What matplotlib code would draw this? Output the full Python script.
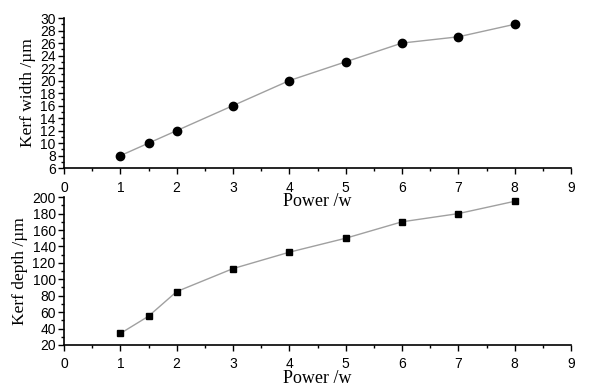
import matplotlib
matplotlib.use("Agg")
import matplotlib.pyplot as plt
from matplotlib.ticker import MultipleLocator

power = [1, 1.5, 2, 3, 4, 5, 6, 7, 8]
kerf_width = [8, 10, 12, 16, 20, 23, 26, 27, 29]
kerf_depth = [34, 55, 85, 113, 133, 150, 170, 180, 195]

fig = plt.figure(figsize=(6.01, 3.92), dpi=100)
ax1 = fig.add_axes([0.1065, 0.571, 0.8436, 0.383])
ax2 = fig.add_axes([0.1065, 0.12, 0.8436, 0.377])
ax1.set_zorder(2)
ax1.patch.set_alpha(0)
ax2.patch.set_alpha(0)

line_kw = dict(color="#a0a0a0", linewidth=1.0, markerfacecolor="black",
               markeredgecolor="black")
ax1.plot(power, kerf_width, marker="o", markersize=6, **line_kw)
ax2.plot(power, kerf_depth, marker="s", markersize=5, **line_kw)

ax1.set_ylim(6, 30)
ax1.yaxis.set_major_locator(MultipleLocator(2))
ax1.yaxis.set_minor_locator(MultipleLocator(1))
ax1.set_ylabel("Kerf width /\u00b5m", family="Liberation Serif", fontsize=12.5, labelpad=3)

ax2.set_ylim(20, 200)
ax2.yaxis.set_major_locator(MultipleLocator(20))
ax2.yaxis.set_minor_locator(MultipleLocator(10))
ax2.set_ylabel("Kerf depth /\u00b5m", family="Liberation Serif", fontsize=12.5, labelpad=3)

for ax in (ax1, ax2):
    ax.set_xlim(0, 9)
    ax.xaxis.set_major_locator(MultipleLocator(1))
    ax.xaxis.set_minor_locator(MultipleLocator(0.5))
    ax.spines["top"].set_visible(False)
    ax.spines["right"].set_visible(False)
    ax.spines["left"].set_linewidth(1.2)
    ax.spines["bottom"].set_linewidth(1.2)
    ax.tick_params(which="major", direction="out", length=4, width=1, labelsize=10)
    ax.tick_params(axis="y", which="major", pad=2)
    ax.tick_params(axis="x", which="major", pad=5)
    ax.tick_params(which="minor", direction="out", length=2.5, width=1)
    for lbl in ax.get_xticklabels() + ax.get_yticklabels():
        lbl.set_family("Liberation Sans")
    ax.set_xlabel("Power /w", family="Liberation Serif", fontsize=13, labelpad=-1)

fig.savefig("out.png", dpi=100)
